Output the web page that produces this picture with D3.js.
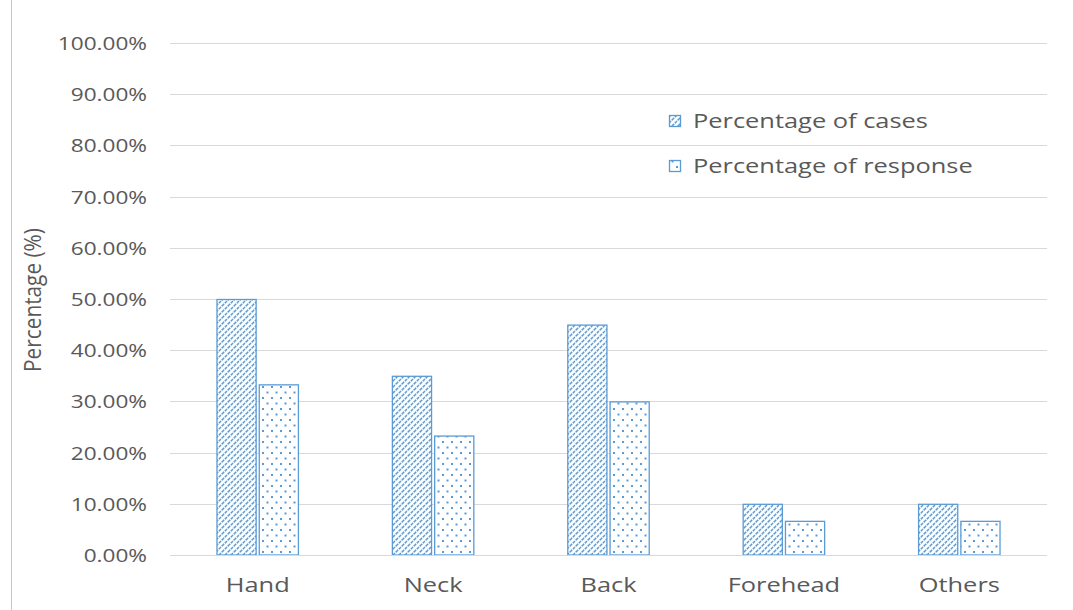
<!DOCTYPE html>
<html><head><meta charset="utf-8">
<script src="https://cdn.jsdelivr.net/npm/d3@7"></script>
<style>body{margin:0;background:#fff}svg{display:block}text{font-family:"Open Sans",sans-serif;fill:#595959}</style>
</head><body><svg id="c" width="1073" height="610"></svg>
<script>
const categories = ["Hand","Neck","Back","Forehead","Others"];
const seriesNames = ["Percentage of cases","Percentage of response"];
const casesValues = [0.50,0.35,0.45,0.10,0.10];
const responseValues = [0.3333,0.2333,0.30,0.0667,0.0667];
const yTicks = [0,0.1,0.2,0.3,0.4,0.5,0.6,0.7,0.8,0.9,1.0];
const yLabel = "Percentage (%)";

const blue = "#5B9BD5";
const svg = d3.select("#c");
const SX = 1.27;

const defs = svg.append("defs");
const hatch = defs.append("pattern").attr("id","hatch").attr("patternUnits","userSpaceOnUse")
  .attr("width",6).attr("height",6);
hatch.append("rect").attr("width",6).attr("height",6).attr("fill","#fff");
hatch.append("path").attr("d","M-1,1 L1,-1 M0,6 L6,0 M5,7 L7,5").attr("stroke",blue).attr("stroke-width",1.5).attr("stroke-dasharray","3,1");
const dots = defs.append("pattern").attr("id","dots").attr("patternUnits","userSpaceOnUse")
  .attr("width",9).attr("height",11);
dots.append("rect").attr("width",9).attr("height",11).attr("fill","#fff");
dots.append("rect").attr("x",1).attr("y",1).attr("width",2).attr("height",2).attr("fill",blue);
dots.append("rect").attr("x",5.5).attr("y",6.5).attr("width",2).attr("height",2).attr("fill",blue);
const fills = ["url(#hatch)","url(#dots)"];

const y = d3.scaleLinear().domain([0,1]).range([555,43]);
const x0 = d3.scaleBand().domain(categories).range([170,1047]).paddingInner(0.53).paddingOuter(0.265);
const x1 = d3.scaleBand().domain(seriesNames).range([0,x0.bandwidth()]).paddingInner(0.05);

// left border
svg.append("line").attr("x1",11.5).attr("x2",11.5).attr("y1",0).attr("y2",610).attr("stroke","#c8c8c8");

// grid
const yAxis = d3.axisLeft(y).tickValues(yTicks).tickSize(-(1047-170)).tickFormat(d3.format(".2%"));
const gy = svg.append("g").attr("transform","translate(170,0)").call(yAxis);
gy.select(".domain").remove();
gy.selectAll(".tick line").attr("stroke","#d9d9d9").attr("shape-rendering","crispEdges");
gy.selectAll(".tick text").attr("x",0).attr("dy","0.36em").style("font-size","17.8px")
  .attr("transform",`translate(-23,0) scale(${SX},1)`);

// bars
const data = categories.map((c,i)=>({c, vals:[casesValues[i],responseValues[i]]}));
const g = svg.append("g");
data.forEach(d=>{
  d.vals.forEach((v,j)=>{
    g.append("rect")
      .attr("x",x0(d.c)+x1(seriesNames[j])+0.5)
      .attr("y",y(v)+0.5)
      .attr("width",x1.bandwidth()-1)
      .attr("height",y(0)-y(v)-0.5)
      .attr("fill",fills[j]).attr("stroke",blue).attr("stroke-width",1.3);
  });
});

// x axis line
svg.append("line").attr("x1",170).attr("x2",1047).attr("y1",555.5).attr("y2",555.5).attr("stroke","#d9d9d9");

// x labels
const xAxis = d3.axisBottom(x0).tickSize(0).tickPadding(0);
const gx = svg.append("g").attr("transform","translate(0,555)").call(xAxis);
gx.select(".domain").remove();
gx.selectAll(".tick text").attr("y",0).attr("dy",0).style("font-size","20px")
  .attr("transform",`translate(0,37) scale(${SX},1)`);

// y label
svg.append("text")
  .attr("text-anchor","middle").style("font-size","20.8px").text(yLabel)
  .attr("transform",`translate(41,300) rotate(-90) scale(1,1.15)`);

// legend
const leg = svg.append("g");
seriesNames.forEach((s,i)=>{
  const yy = 121 + i*45;
  leg.append("rect").attr("x",669.5).attr("y",yy-5.5).attr("width",11).attr("height",11)
    .attr("fill",fills[i]).attr("stroke",blue).attr("stroke-width",1.3);
  leg.append("text").attr("x",0).attr("y",0).attr("dy","0.36em").style("font-size","20px")
    .attr("transform",`translate(693,${yy}) scale(${SX},1)`).text(s);
});
</script></body></html>
